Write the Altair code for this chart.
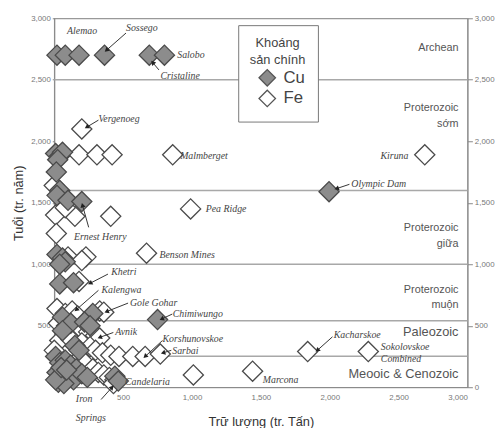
import math
import altair as alt
import pandas as pd

# ---------------- data ----------------
# Cu deposits: reserves (Mt) and age (Ma)
cu_x = [20, 80, 180, 365, 690, 800,
        10, 40, 60, 25, 15,
        40, 20, 100, 200,
        20, 60, 80, 40,
        40, 140,
        60, 250, 280, 120, 220, 260, 60,
        750,
        150, 180,
        10, 40, 80, 120, 160, 20, 60, 100, 140, 30, 70, 200, 240, 10, 50, 90,
        440, 465,
        1995]
cu_y = [2700, 2700, 2700, 2700, 2700, 2700,
        1900, 1880, 1910, 1850, 1750,
        1600, 1560, 1520, 1510,
        1080, 1050, 1020, 1000,
        840, 850,
        570, 560, 600, 520, 530, 500, 460,
        550,
        340, 300,
        250, 200, 220, 180, 150, 120, 100, 80, 60, 40, 30, 110, 80, 60, 160, 140,
        90, 50,
        1590]
# Fe deposits
fe_x = [200, 180, 310, 420, 860, 2690, 0, 10, 150, 410, 80, 990, 15, 100, 230, 200, 670, 180,
        20, 80, 130, 170, 330, 360, 30, 90, 150, 200, 250, 300, 330,
        40, 120, 200, 260, 300, 350, 410, 470, 570, 660, 770,
        0, 180, 220, 280, 320, 360, 400, 440, 430, 1010, 1440, 1840, 2280]
fe_y = [2100, 1890, 1890, 1890, 1890, 1890, 1640, 1400, 1390, 1390, 1460, 1450, 1250, 1060, 1060, 1030, 1090, 860,
        640, 600, 620, 580, 620, 610, 520, 500, 480, 470, 450, 420, 400,
        380, 390, 360, 330, 300, 280, 260, 250, 250, 250, 270,
        300, 230, 200, 150, 120, 100, 80, 60, 30, 100, 130, 290, 290]

# era boundaries (Ma) and era labels
era_bounds = [2500, 1600, 1000, 541, 252]
era_text = ["Archean", "Proterozoic", "sớm", "Proterozoic", "giữa",
            "Proterozoic", "muộn", "Paleozoic", "Meooic & Cenozoic"]
era_y = [2760, 2270, 2140, 1295, 1167, 790, 668, 445, 105]
era_size = [11, 11, 11, 11, 11, 11, 11, 13, 13]

# deposit name labels
ann_text = ["Alemao", "Sossego", "Salobo", "Cristaline", "Vergenoeg", "Malmberget",
            "Kiruna", "Olympic Dam", "Pea Ridge", "Ernest Henry", "Benson Mines",
            "Khetri", "Kalengwa", "Gole Gohar", "Chimiwungo", "Avnik", "Korshunovskoe",
            "Sarbai", "Candelaria", "Iron", "Springs", "Marcona", "Kacharskoe",
            "Sokolovskoe", "Combined"]
ann_x = [93, 521, 893, 771, 321, 914, 2571, 2157, 1100, 143, 764, 414, 343, 550, 860,
         443, 786, 857, 514, 157, 157, 1514, 2029, 2371, 2371]
ann_y = [2896, 2920, 2703, 2534, 2180, 1880, 1880, 1650, 1448, 1223, 1078, 933, 790,
         684, 597, 450, 394, 298, 40, -100, -250, 56, 426, 330, 233]
ann_align = ["left"] * 6 + ["right"] + ["left"] * 18

# leader arrows: from label to deposit
arr_x1 = [521, 760, 321, 2143, 250, 390, 321, 536, 857, 429, 786, 850, 340, 2020]
arr_y1 = [2880, 2580, 2172, 1650, 1300, 920, 788, 684, 595, 445, 380, 300, -100, 410]
arr_x2 = [379, 715, 236, 2050, 205, 260, 160, 380, 780, 330, 660, 790, 420, 1910]
arr_y2 = [2740, 2640, 2115, 1615, 1480, 845, 630, 615, 555, 405, 250, 280, 0, 300]

# ---------------- chart ----------------
W, H = 420, 375
DOM = [0, 3000]

pts = pd.DataFrame({
    "x": fe_x + cu_x,
    "y": fe_y + cu_y,
    "m": ["Fe"] * len(fe_x) + ["Cu"] * len(cu_x),
})
pts["o"] = range(len(pts))

xs = alt.Scale(domain=DOM, nice=False, zero=False)
ys = alt.Scale(domain=DOM, nice=False, zero=False)

era_df = pd.DataFrame({"y": era_bounds})
lines = alt.Chart(era_df).mark_rule(color="#a8a8a8", strokeWidth=1.5).encode(
    y=alt.Y("y:Q", scale=ys, axis=alt.Axis(
        orient="right", values=[0, 500, 1000, 1500, 2000, 2500, 3000], format=",.0f",
        labelFontSize=8, labelColor="#777", labelFont="Liberation Sans",
        tickSize=5, tickColor="#888", domainColor="#888", grid=False, title=None,
        labelPadding=2)),
)

points = alt.Chart(pts).mark_point(
    shape="diamond", filled=True, size=420, stroke="#4a4a4a", strokeWidth=1.3, opacity=1
).encode(
    x=alt.X("x:Q", scale=xs, axis=alt.Axis(
        values=[500, 1000, 1500, 2000, 2500, 3000], format=",.0f", labelFontSize=8,
        labelColor="#777", labelFont="Liberation Sans", tickSize=0, domainColor="#888",
        grid=False, title="Trữ lượng (tr. Tấn)", titleFont="Liberation Sans",
        titleFontSize=13, titleFontWeight="normal", titleColor="#333",
        titlePadding=15, labelPadding=6)),
    y=alt.Y("y:Q", scale=ys, axis=alt.Axis(
        values=[500, 1000, 1500, 2000, 2500, 3000], format=",.0f", labelFontSize=8,
        labelColor="#777", labelFont="Liberation Sans", tickSize=2, domainColor="#888",
        grid=False, title="Tuổi (tr. năm)", titleFont="Liberation Sans",
        titleFontSize=13, titleFontWeight="normal", titleColor="#333",
        titlePadding=5, labelPadding=2)),
    fill=alt.Fill("m:N", scale=alt.Scale(domain=["Cu", "Fe"], range=["#8c8c8c", "#ffffff"]),
                  legend=alt.Legend(
                      title=["Khoáng", "sản chính"], orient="none", legendX=187, legendY=7,
                      titleFont="Liberation Sans", titleFontSize=13, titleFontWeight="normal",
                      titleColor="#444", titleAnchor="middle", titleAlign="center",
                      titleLineHeight=17, titlePadding=2,
                      labelFont="Liberation Sans", labelFontSize=17, labelColor="#444",
                      symbolType="diamond", symbolSize=280, symbolStrokeColor="#555",
                      symbolStrokeWidth=1.3, symbolOffset=8, strokeColor="#777",
                      fillColor="white", padding=12, rowPadding=-2, labelOffset=7,
                      offset=0)),
    order=alt.Order("o:Q"),
)

era_lbl = alt.Chart(pd.DataFrame({"t": era_text, "y": era_y, "s": era_size, "x": [2935] * len(era_y)})).mark_text(
    align="right", baseline="middle", font="Liberation Sans", color="#555"
).encode(
    x=alt.X("x:Q", scale=xs, axis=None),
    y=alt.Y("y:Q", scale=ys, axis=None),
    text="t:N",
    size=alt.Size("s:Q", scale=None, legend=None),
)

ann_df = pd.DataFrame({"t": ann_text, "x": ann_x, "y": ann_y, "a": ann_align})
ann_l = alt.Chart(ann_df[ann_df.a == "left"]).mark_text(
    align="left", baseline="middle", font="Liberation Serif", fontStyle="italic",
    fontSize=10, color="#444"
).encode(x=alt.X("x:Q", scale=xs, axis=None), y=alt.Y("y:Q", scale=ys, axis=None), text="t:N")
ann_r = alt.Chart(ann_df[ann_df.a == "right"]).mark_text(
    align="right", baseline="middle", font="Liberation Serif", fontStyle="italic",
    fontSize=10, color="#444"
).encode(x=alt.X("x:Q", scale=xs, axis=None), y=alt.Y("y:Q", scale=ys, axis=None), text="t:N")

arr_df = pd.DataFrame({"x1": arr_x1, "y1": arr_y1, "x2": arr_x2, "y2": arr_y2})
sx, sy = W / 3000, H / 3000
arr_df["ang"] = [
    math.degrees(math.atan2((b - a) * sx, (d - c) * sy)) % 360
    for a, b, c, d in zip(arr_df.x1, arr_df.x2, arr_df.y1, arr_df.y2)
]
arrows = alt.Chart(arr_df).mark_rule(color="#333", strokeWidth=1).encode(
    x=alt.X("x1:Q", scale=xs, axis=None), y=alt.Y("y1:Q", scale=ys, axis=None),
    x2="x2:Q", y2="y2:Q",
)
heads = alt.Chart(arr_df).mark_point(shape="triangle-up", filled=True, color="#222", size=28, opacity=1).encode(
    x=alt.X("x2:Q", scale=xs, axis=None), y=alt.Y("y2:Q", scale=ys, axis=None),
    angle=alt.Angle("ang:Q", scale=None),
)

chart = alt.layer(lines, points, era_lbl, ann_l, ann_r, arrows, heads).resolve_axis(
    y="independent", x="independent"
).properties(
    width=W, height=H,
    autosize=alt.AutoSizeParams(type="none"),
    padding={"left": 47, "top": 7, "right": 29, "bottom": 38},
    background="white",
).configure_view(stroke="#999", strokeWidth=1.2)

chart.save("out.html", embed_options={"renderer": "svg", "actions": False})
